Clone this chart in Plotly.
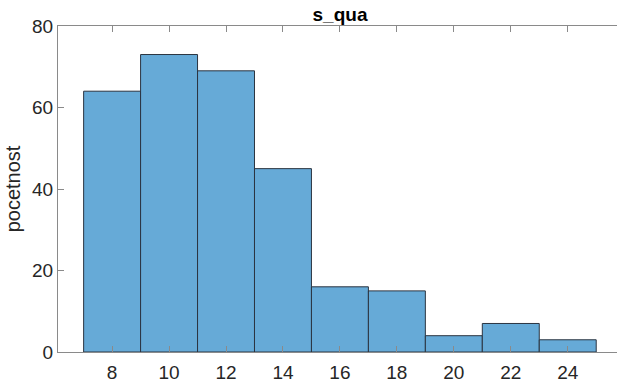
import plotly.graph_objects as go

bin_edges = [7, 9, 11, 13, 15, 17, 19, 21, 23, 25]
counts = [64, 73, 69, 45, 16, 15, 4, 7, 3]
x_ticks = [8, 10, 12, 14, 16, 18, 20, 22, 24]
y_ticks = [0, 20, 40, 60, 80]
title_text = "s_qua"
y_label = "pocetnost"

centers = [(a + b) / 2 for a, b in zip(bin_edges[:-1], bin_edges[1:])]
widths = [b - a for a, b in zip(bin_edges[:-1], bin_edges[1:])]

FONT = "Liberation Sans, Arial, Helvetica, sans-serif"
AX = "#8a8a8a"
TXT = "#262626"

fig = go.Figure(go.Bar(
    x=centers, y=counts, width=widths,
    marker=dict(color="rgb(102,170,215)", line=dict(color="#2b3440", width=1)),
))

fig.update_layout(
    width=617, height=383,
    margin=dict(l=58, r=0, t=26, b=27),
    paper_bgcolor="white", plot_bgcolor="white",
    showlegend=False,
    font=dict(family=FONT, size=19, color=TXT),
    title=dict(text="<b>" + title_text + "</b>", x=340 / 617, xref="container",
               xanchor="center", y=1 - 14 / 383, yref="container", yanchor="middle",
               font=dict(size=19, color="#000000", family=FONT)),
    xaxis=dict(range=[6.1, 25.73], tickvals=x_ticks, ticks="inside", ticklen=6,
               tickcolor=AX, showline=True, linecolor=AX, linewidth=1,
               mirror="ticks", showgrid=False, zeroline=False,
               tickfont=dict(size=19, color=TXT), ticklabelstandoff=3),
    yaxis=dict(range=[0, 80], tickvals=y_ticks, ticks="inside", ticklen=6,
               tickcolor=AX, showline=True, linecolor=AX, linewidth=1,
               mirror=False, showgrid=False, zeroline=False,
               tickfont=dict(size=19, color=TXT),
               title=dict(text=y_label, font=dict(size=20, color=TXT), standoff=6)),
)

fig.write_html("out.html")
